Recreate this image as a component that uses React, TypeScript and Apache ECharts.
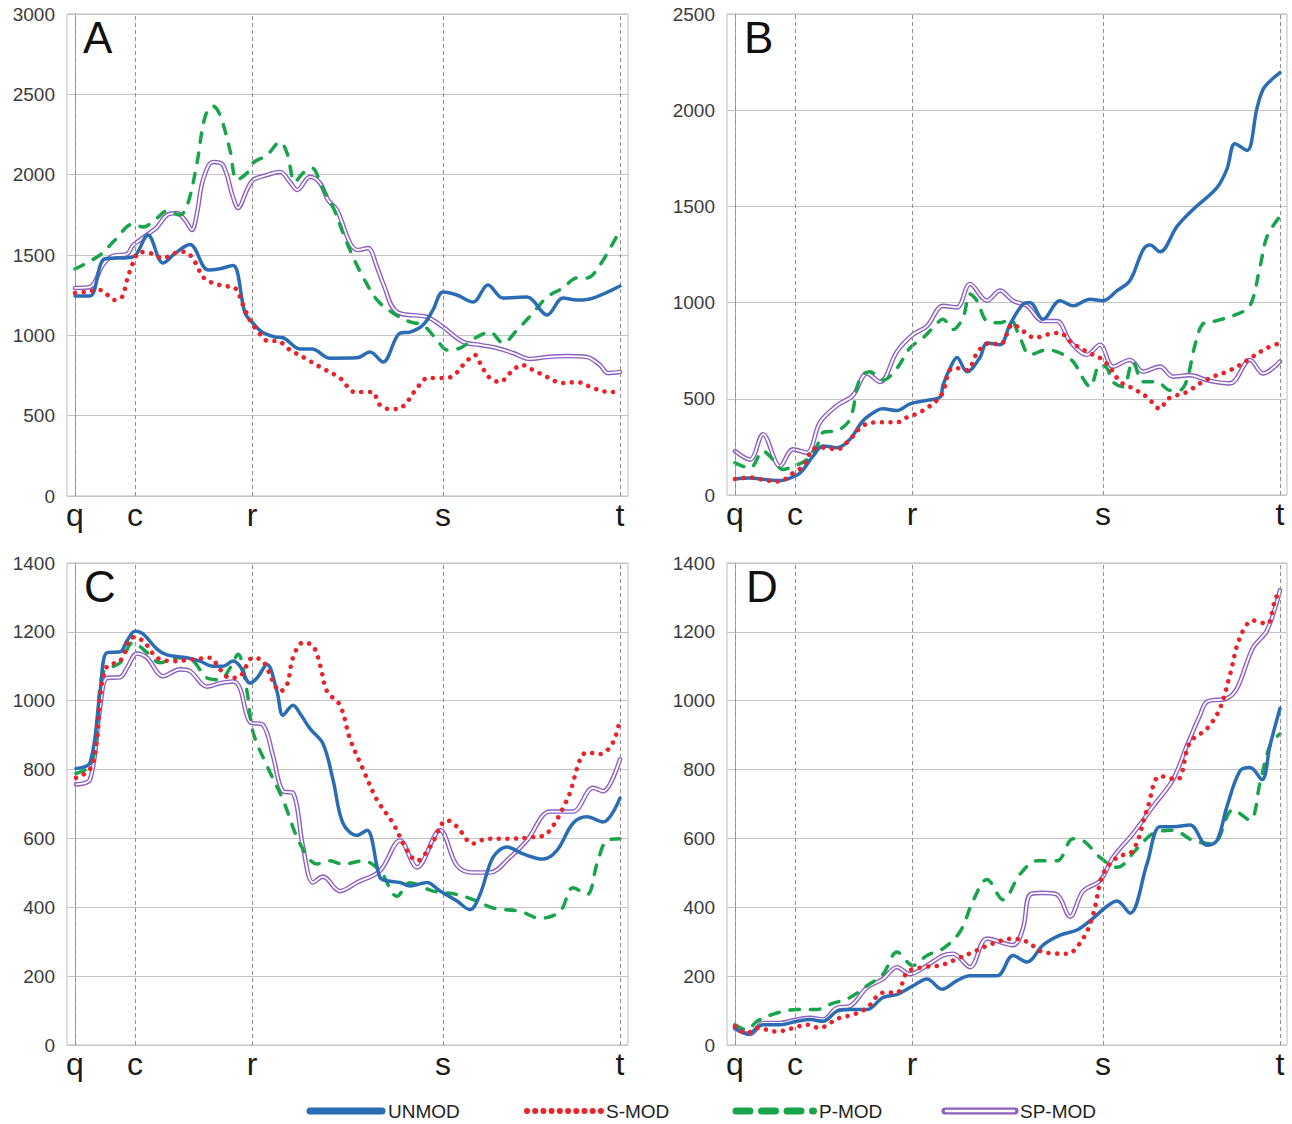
import React, { useEffect, useRef } from 'react';
import * as echarts from 'echarts';

// ---------- axis labels / categories ----------
const TICK_POS = [0, 60, 177, 368, 545];
const TICK_NAMES = ['q', 'c', 'r', 's', 't'];
const SERIES_NAMES = ['UNMOD', 'S-MOD', 'P-MOD', 'SP-MOD'];
const PANEL_LETTERS = ['A', 'B', 'C', 'D'];
const Y_MAX = [3000, 2500, 1400, 1400];
const Y_STEP = [500, 500, 200, 200];

// ---------- data: [position, value] ----------
const A_UNMOD: [number, number][] = [[0,1245],[15,1245],[28,1470],[38,1480],[50,1482],[60,1495],[73,1625],[88,1450],[100,1510],[115,1565],[133,1407],[145,1415],[158,1435],[170,1139],[177,1083],[187,1021],[200,990],[208,985],[225,915],[237,915],[255,858],[282,860],[295,896],[308,834],[325,1014],[335,1020],[348,1064],[358,1158],[368,1270],[382,1251],[398,1207],[413,1313],[428,1232],[452,1238],[472,1127],[488,1232],[502,1220],[518,1232],[545,1307]];
const A_SMOD: [number, number][] = [[0,1263],[10,1270],[25,1282],[40,1220],[47,1238],[52,1344],[58,1450],[65,1518],[75,1512],[88,1481],[100,1512],[110,1520],[120,1456],[128,1363],[138,1325],[150,1307],[160,1295],[168,1189],[175,1095],[182,1033],[193,965],[202,965],[215,909],[230,858],[245,803],[265,734],[280,647],[297,647],[305,566],[315,541],[323,541],[332,585],[342,672],[353,734],[368,734],[378,747],[390,828],[400,878],[407,803],[415,734],[425,709],[435,765],[447,815],[458,784],[472,741],[487,703],[502,709],[518,672],[535,647],[545,647]];
const A_PMOD: [number, number][] = [[0,1413],[25,1500],[40,1593],[58,1693],[68,1674],[82,1730],[92,1774],[105,1749],[113,1824],[122,2073],[130,2359],[138,2427],[145,2371],[155,2153],[162,1967],[172,2010],[178,2073],[192,2122],[205,2203],[212,2135],[220,1954],[228,2010],[237,2041],[247,1923],[258,1799],[268,1637],[278,1488],[288,1363],[302,1220],[318,1139],[335,1083],[348,1064],[362,971],[372,909],[385,921],[402,990],[415,1020],[428,952],[442,1033],[458,1139],[472,1238],[488,1295],[502,1357],[512,1357],[525,1438],[545,1656]];
const A_SPMOD: [number, number][] = [[0,1295],[15,1301],[28,1440],[38,1495],[52,1505],[58,1560],[72,1625],[82,1674],[92,1749],[102,1761],[110,1718],[117,1656],[122,1761],[128,1967],[138,2079],[148,2060],[158,1861],[163,1792],[172,1905],[178,1967],[192,1998],[205,2017],[215,1954],[222,1905],[235,1986],[245,1948],[253,1842],[262,1780],[275,1575],[283,1531],[293,1543],[302,1425],[308,1325],[322,1145],[352,1114],[368,1052],[388,959],[405,940],[422,921],[438,890],[455,853],[472,865],[492,871],[512,865],[525,815],[533,765],[545,772]];

const B_UNMOD: [number, number][] = [[0,83],[15,88],[32,79],[45,75],[55,88],[65,114],[78,202],[88,255],[102,246],[115,290],[128,386],[142,439],[148,448],[162,439],[175,474],[192,492],[205,509],[208,571],[215,659],[222,715],[232,640],[245,715],[252,790],[265,781],[275,887],[288,992],[295,1001],[308,913],[325,1010],[338,983],[355,1018],[368,1010],[382,1062],[395,1115],[408,1273],[415,1299],[425,1264],[442,1396],[458,1484],[482,1598],[492,1695],[500,1826],[512,1791],[522,2011],[528,2107],[535,2151],[545,2195]];
const B_SMOD: [number, number][] = [[0,83],[15,91],[28,79],[43,70],[52,88],[58,114],[68,149],[78,237],[88,246],[102,237],[115,290],[128,360],[142,378],[162,378],[172,404],[185,430],[202,492],[208,536],[215,650],[222,659],[232,650],[243,746],[255,790],[265,781],[278,887],[288,852],[300,817],[312,834],[325,843],[335,799],[345,764],[358,729],[368,702],[378,641],[385,588],[395,562],[412,509],[425,448],[433,500],[452,536],[465,580],[478,615],[492,641],[505,676],[518,720],[532,764],[545,790]];
const B_PMOD: [number, number][] = [[0,167],[15,140],[28,228],[38,184],[48,132],[58,149],[72,184],[82,255],[88,325],[102,334],[115,395],[125,606],[135,641],[148,597],[162,659],[175,764],[188,817],[198,869],[208,913],[218,860],[228,922],[235,1045],[242,1010],[252,904],[265,895],[275,913],[285,817],[295,729],[312,755],[325,738],[338,694],[348,606],[355,562],[365,676],[372,659],[378,588],[388,562],[398,694],[408,588],[422,588],[435,544],[445,545],[452,600],[460,780],[468,890],[480,904],[502,940],[515,983],[525,1185],[532,1343],[545,1449]];
const B_SPMOD: [number, number][] = [[0,228],[15,184],[28,316],[45,149],[58,237],[72,220],[85,378],[102,465],[118,518],[132,632],[145,588],[162,746],[178,834],[192,878],[208,983],[222,975],[235,1097],[252,1010],[265,1062],[278,1010],[292,983],[308,904],[322,904],[335,799],[352,729],[365,781],[378,667],[395,702],[408,641],[425,667],[438,615],[455,623],[472,597],[495,580],[515,702],[528,632],[545,694]];

const C_UNMOD: [number, number][] = [[1,803],[15,820],[25,1024],[32,1140],[45,1142],[52,1174],[60,1202],[68,1194],[82,1150],[92,1133],[112,1125],[125,1115],[138,1100],[148,1100],[158,1115],[165,1100],[175,1051],[182,1066],[192,1105],[202,1027],[208,958],[218,987],[225,963],[235,919],[248,875],[258,771],[268,644],[282,609],[292,624],[305,486],[312,477],[325,472],[335,462],[352,472],[365,447],[382,418],[395,393],[405,437],[418,545],[432,575],[448,555],[468,540],[482,565],[498,644],[512,663],[528,648],[545,717]];
const C_SMOD: [number, number][] = [[1,776],[15,801],[22,889],[25,1007],[32,1100],[45,1115],[58,1184],[68,1174],[82,1125],[98,1115],[118,1120],[135,1125],[145,1091],[155,1066],[165,1071],[178,1125],[188,1115],[198,1056],[205,1027],[212,1046],[218,1125],[228,1169],[238,1159],[245,1105],[252,1027],[265,987],[275,889],[288,801],[302,712],[318,644],[332,565],[342,535],[355,575],[372,653],[382,634],[398,585],[412,599],[432,599],[458,604],[472,614],[492,712],[512,850],[525,845],[538,879],[545,948]];
const C_PMOD: [number, number][] = [[1,789],[15,811],[22,909],[28,1081],[45,1110],[58,1169],[72,1140],[85,1110],[102,1125],[118,1115],[132,1066],[145,1061],[155,1095],[163,1135],[172,1027],[178,909],[192,811],[208,712],[225,585],[242,526],[255,535],[268,525],[288,535],[305,506],[322,432],[335,471],[358,447],[382,437],[402,418],[418,398],[445,388],[465,368],[485,388],[498,457],[512,437],[522,526],[532,594],[545,599]];
const C_SPMOD: [number, number][] = [[1,757],[15,771],[25,978],[32,1066],[45,1068],[52,1095],[62,1137],[72,1125],[88,1071],[105,1091],[115,1086],[132,1041],[145,1051],[158,1056],[165,1036],[175,938],[188,930],[198,840],[208,737],[218,732],[228,575],[238,472],[248,489],[265,447],[282,472],[305,506],[325,594],[342,516],[365,624],[382,521],[398,501],[415,501],[435,545],[452,594],[475,678],[498,678],[518,747],[528,737],[545,830]];

const D_UNMOD: [number, number][] = [[0,49],[13,32],[28,59],[45,59],[62,69],[75,74],[88,69],[102,98],[115,103],[132,103],[148,138],[162,147],[178,172],[192,192],[207,162],[222,187],[235,201],[262,201],[278,260],[292,241],[308,290],[325,319],[342,334],[358,368],[372,403],[382,418],[395,383],[412,526],[425,634],[438,634],[455,639],[472,580],[482,594],[492,693],[505,796],[515,806],[527,771],[535,870],[545,978]];
const D_SMOD: [number, number][] = [[0,54],[12,34],[22,49],[42,39],[58,49],[72,59],[85,49],[95,64],[105,79],[118,88],[132,108],[148,152],[162,152],[172,211],[188,226],[205,231],[222,250],[238,270],[258,295],[278,309],[292,300],[308,270],[332,265],[348,309],[358,378],[368,496],[382,545],[398,565],[412,683],[425,781],[442,771],[455,879],[472,919],[485,978],[495,1076],[505,1184],[518,1233],[532,1223],[540,1292],[545,1321]];
const D_PMOD: [number, number][] = [[0,59],[12,44],[22,69],[42,93],[62,103],[82,103],[95,118],[115,138],[132,172],[148,206],[162,270],[178,231],[192,260],[208,280],[225,329],[238,418],[252,481],[268,422],[285,496],[302,535],[322,535],[338,599],[348,594],[365,545],[382,516],[402,570],[418,614],[438,624],[458,594],[478,584],[498,683],[515,653],[525,761],[535,870],[545,904]];
const D_SPMOD: [number, number][] = [[0,49],[15,32],[28,64],[45,64],[62,74],[75,79],[88,74],[102,108],[115,113],[132,167],[148,192],[162,226],[175,206],[192,231],[208,260],[218,265],[235,226],[252,309],[278,290],[288,339],[295,437],[308,442],[322,437],[335,373],[348,447],[365,477],[378,545],[398,614],[418,693],[438,771],[452,870],[465,958],[472,997],[492,1007],[502,1036],[518,1154],[532,1204],[545,1321]];

const PANEL_DATA = [
  [A_UNMOD, A_SMOD, A_PMOD, A_SPMOD],
  [B_UNMOD, B_SMOD, B_PMOD, B_SPMOD],
  [C_UNMOD, C_SMOD, C_PMOD, C_SPMOD],
  [D_UNMOD, D_SMOD, D_PMOD, D_SPMOD],
];

// ---------- layout & style ----------
const FONT = "'Liberation Sans', Arial, sans-serif";
const BLUE = '#2a6db5';
const RED = '#e8232a';
const GREEN = '#18a44a';
const PURPLE = '#8e5fc0';

const GRIDS = [
  { left: 67, top: 14, width: 561, height: 482 },
  { left: 727, top: 14, width: 560, height: 481 },
  { left: 67, top: 563, width: 561, height: 482 },
  { left: 727, top: 563, width: 560, height: 482 },
];
const X_MAXES = [553, 552, 553, 552];
const LETTER_POS = [[83, 15], [744, 15], [84, 564], [746, 564]];

function buildOption() {
  const grid = GRIDS.map((g) => ({ ...g, show: true, borderColor: '#bdbdbd', borderWidth: 1, containLabel: false }));
  const xAxis = GRIDS.map((_, i) => ({
    gridIndex: i, type: 'value', min: -8, max: X_MAXES[i],
    axisLine: { show: false }, axisTick: { show: false }, axisLabel: { show: false }, splitLine: { show: false },
  }));
  const yAxis = GRIDS.map((_, i) => ({
    gridIndex: i, type: 'value', min: 0, max: Y_MAX[i], interval: Y_STEP[i],
    axisLine: { show: true, lineStyle: { color: '#a8a8a8', width: 1 } },
    axisTick: { show: false },
    axisLabel: { fontSize: 19, color: '#3b3b3b', margin: 12, fontFamily: FONT, formatter: (v: number) => String(v) },
    splitLine: { show: true, lineStyle: { color: '#c4c4c4', width: 1 } },
  }));

  const series: any[] = [];
  PANEL_DATA.forEach((d, i) => {
    // vertical reference lines with q, c, r, s, t labels
    series.push({
      type: 'line', name: 'ref' + i, xAxisIndex: i, yAxisIndex: i, data: [], silent: true, z: 1,
      markLine: {
        silent: true, symbol: ['none', 'none'], animation: false,
        lineStyle: { color: '#8f8f8f', type: [4, 3], width: 1 },
        label: { show: true, position: 'start', distance: 3, formatter: (p: any) => p.name, fontSize: 32, color: '#1a1a1a', fontFamily: FONT },
        data: TICK_POS.map((x, k) => ({ xAxis: x, name: TICK_NAMES[k] })),
      },
    });
    const common = { type: 'line', xAxisIndex: i, yAxisIndex: i, smooth: 0.35, symbol: 'none', showSymbol: false, silent: true };
    series.push({ ...common, name: SERIES_NAMES[3], data: d[3], z: 3, lineStyle: { color: PURPLE, width: 4.6, cap: 'round' } });
    series.push({ ...common, name: SERIES_NAMES[3] + ' inner', data: d[3], z: 3, lineStyle: { color: '#ffffff', width: 1.8, cap: 'round' } });
    series.push({ ...common, name: SERIES_NAMES[2], data: d[2], z: 4, lineStyle: { color: GREEN, width: 3.5, type: [9.5, 11], cap: 'round' } });
    series.push({ ...common, name: SERIES_NAMES[0], data: d[0], z: 5, lineStyle: { color: BLUE, width: 3.5, cap: 'round' } });
    series.push({ ...common, name: SERIES_NAMES[1], data: d[1], z: 6, lineStyle: { color: RED, width: 4.6, type: [0.01, 8.6], cap: 'round' } });
  });

  const graphic: any[] = [];
  PANEL_LETTERS.forEach((L, i) => {
    graphic.push({ type: 'text', left: LETTER_POS[i][0], top: LETTER_POS[i][1], silent: true,
      style: { text: L, fontSize: 44, fontFamily: FONT, fill: '#111111' } });
  });

  // legend
  const LY = 1111;
  graphic.push({ type: 'line', silent: true, shape: { x1: 310, y1: LY, x2: 382, y2: LY }, style: { stroke: BLUE, lineWidth: 7, lineCap: 'round' } });
  graphic.push({ type: 'line', silent: true, shape: { x1: 527, y1: LY, x2: 601, y2: LY }, style: { stroke: RED, lineWidth: 6, lineCap: 'round', lineDash: [0.01, 8.2] } });
  graphic.push({ type: 'line', silent: true, shape: { x1: 736, y1: LY, x2: 813.5, y2: LY }, style: { stroke: GREEN, lineWidth: 7, lineCap: 'round', lineDash: [14, 11.5] } });
  graphic.push({ type: 'line', silent: true, shape: { x1: 945, y1: LY, x2: 1015, y2: LY }, style: { stroke: PURPLE, lineWidth: 7, lineCap: 'round' } });
  graphic.push({ type: 'line', silent: true, shape: { x1: 946, y1: LY, x2: 1014, y2: LY }, style: { stroke: '#ffffff', lineWidth: 2.6, lineCap: 'round' } });
  const LEG_X = [388, 606, 819, 1020];
  SERIES_NAMES.forEach((n, k) => {
    graphic.push({ type: 'text', x: LEG_X[k], y: LY, silent: true,
      style: { text: n, fontSize: 19, fontFamily: FONT, fill: '#222222', align: 'left', verticalAlign: 'middle', textAlign: 'left', textVerticalAlign: 'middle' } });
  });

  return { animation: false, backgroundColor: '#ffffff', grid, xAxis, yAxis, series, graphic };
}

export default function App() {
  const ref = useRef<HTMLDivElement>(null);
  useEffect(() => {
    const chart = echarts.init(ref.current as HTMLDivElement, null, { renderer: 'svg' });
    chart.setOption(buildOption() as any);
    return () => chart.dispose();
  }, []);
  return <div ref={ref} style={{ position: 'absolute', left: 0, top: 0, width: 1292, height: 1124, background: '#fff' }} />;
}
